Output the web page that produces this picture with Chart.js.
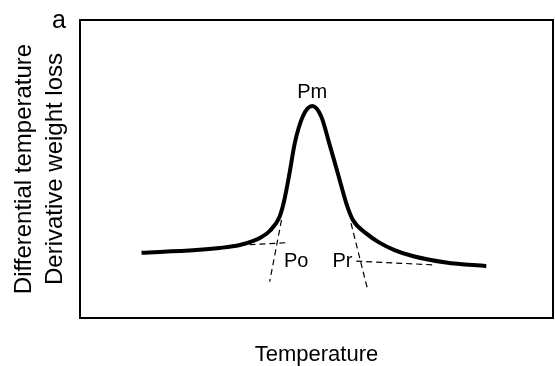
<!DOCTYPE html>
<html>
<head>
<meta charset="utf-8">
<script src="https://cdn.jsdelivr.net/npm/chart.js@4/dist/chart.umd.min.js"></script>
<style>
  html, body { margin: 0; padding: 0; background: #fff; }
  #wrap { width: 555px; height: 366px; }
</style>
</head>
<body>
<div id="wrap"><canvas id="c" width="555" height="366"></canvas></div>
<script>
// Thermal analysis peak: temperature vs. differential temperature / derivative weight loss
const temps  = [13.0, 24.6, 29.5, 33.8, 36.5, 38.4, 40.1, 42.2, 43.2, 44.3, 45.4, 47.1, 49.1, 51.0, 52.7, 54.5, 56.3, 57.7, 60.5, 63.3, 66.5, 70.3, 77.4, 85.9];
const signal = [21.9, 22.8, 23.5, 24.5, 25.8, 27.2, 29.2, 34.0, 39.6, 48.6, 58.6, 67.6, 71.1, 67.6, 58.6, 48.6, 38.5, 32.9, 28.4, 25.3, 22.8, 20.8, 18.6, 17.4];

// Tangent construction lines (onset and recovery)
const onsetBaseX  = [31.6, 43.9], onsetBaseY  = [24.2, 25.3];
const onsetSlopeX = [42.6, 40.1], onsetSlopeY = [32.9, 12.2];
const endSlopeX   = [57.3, 60.8], endSlopeY   = [31.8, 9.6];
const endBaseX    = [58.4, 75.2], endBaseY    = [19.1, 17.8];

// Point labels
const pointNames = ['Pm', 'Po', 'Pr'];
const pointX     = [49.1, 45.7, 55.5];
const pointY     = [75.6, 18.9, 19.1];

const xy = (xs, ys) => xs.map((x, i) => ({ x: x, y: ys[i] }));

const FONT = 'Arial, "Liberation Sans", Helvetica, sans-serif';

const dashed = (xs, ys) => ({
  data: xy(xs, ys),
  borderColor: '#000',
  borderWidth: 1.2,
  borderDash: [6, 4],
  pointRadius: 0,
  tension: 0,
  fill: false
});

const frameAndLabels = {
  id: 'frameAndLabels',
  afterDatasetsDraw(chart) {
    const { ctx, chartArea: a, scales: { x, y } } = chart;
    ctx.save();
    ctx.strokeStyle = '#000';
    ctx.lineWidth = 2;
    ctx.strokeRect(a.left, a.top, a.right - a.left, a.bottom - a.top);

    ctx.fillStyle = '#000';
    ctx.font = '20px ' + FONT;
    ctx.textAlign = 'center';
    ctx.textBaseline = 'middle';
    pointNames.forEach((n, i) => {
      ctx.fillText(n, x.getPixelForValue(pointX[i]), y.getPixelForValue(pointY[i]));
    });

    ctx.font = '25px ' + FONT;
    ctx.textAlign = 'right';
    ctx.fillText('a', a.left - 14, a.top + 1);
    ctx.restore();
  }
};

new Chart(document.getElementById('c'), {
  type: 'line',
  data: {
    datasets: [
      {
        data: xy(temps, signal),
        borderColor: '#000',
        borderWidth: 4,
        pointRadius: 0,
        cubicInterpolationMode: 'monotone',
        fill: false
      },
      dashed(onsetBaseX, onsetBaseY),
      dashed(onsetSlopeX, onsetSlopeY),
      dashed(endSlopeX, endSlopeY),
      dashed(endBaseX, endBaseY)
    ]
  },
  options: {
    responsive: false,
    animation: false,
    layout: { padding: { top: 20, right: 2, left: 0, bottom: 0 } },
    plugins: { legend: { display: false }, tooltip: { enabled: false } },
    scales: {
      x: {
        type: 'linear', min: 0, max: 100,
        grid: { display: false },
        border: { display: false },
        ticks: { display: false },
        title: {
          display: true, text: 'Temperature', color: '#000',
          font: { family: FONT, size: 22, lineHeight: 1 },
          padding: 0
        },
        afterFit(s) { s.height = 48; }
      },
      y: {
        type: 'linear', min: 0, max: 100,
        grid: { display: false },
        border: { display: false },
        ticks: { display: false },
        title: {
          display: true, text: ['Differential temperature', 'Derivative weight loss'], color: '#000',
          font: { family: FONT, size: 24, lineHeight: 1.3 },
          padding: { top: 9, bottom: 0 }
        },
        afterFit(s) { s.width = 80; }
      }
    }
  },
  plugins: [frameAndLabels]
});
</script>
</body>
</html>
